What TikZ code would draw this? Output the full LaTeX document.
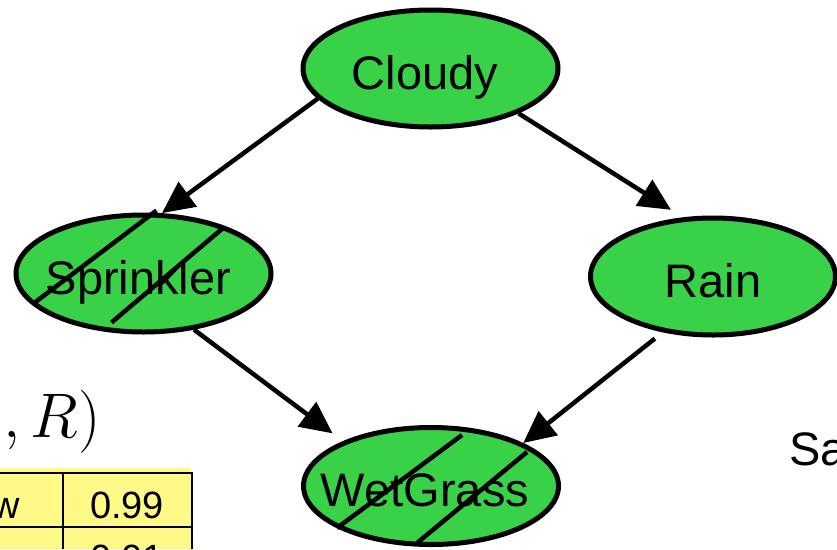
\documentclass[tikz,border=0pt]{standalone}
\usepackage{fix-cm}
\usepackage{amsmath}
\usepackage[no-math]{fontspec}
\setmainfont{Liberation Sans}
\usepackage{tikz}
\usetikzlibrary{shapes.geometric,arrows.meta}

\definecolor{nodegrn}{RGB}{57,209,72}
\definecolor{tblyel}{RGB}{255,250,135}

\begin{document}
\begin{tikzpicture}[x=1pt,y=-1pt]

\tikzstyle{var}=[ellipse,draw,line width=5pt,fill=nodegrn,minimum width=255pt,minimum height=117pt,inner ysep=0pt,inner xsep=-40pt,font=\fontsize{47}{56}\selectfont,text height=41pt,text depth=0pt]
\tikzstyle{arr}=[line width=4.5pt,-{Triangle[length=32pt,width=30pt]}]
\tikzstyle{hat}=[line width=4.5pt]
\tikzstyle{grd}=[line width=2.5pt]
\tikzstyle{tbl}=[inner sep=0pt,font=\fontsize{38}{45}\selectfont]

\useasboundingbox (0,0) rectangle (837,549);
\clip (0,0) rectangle (837,549);

\node[var] (cloudy) at (430.5,68.5) {Cloudy\hspace*{11pt}};
\node[var] (sprinkler) at (143.5,273.5) {Sprinkler\hspace*{10pt}};
\node[var,minimum width=245pt] (rain) at (713,276.5) {Rain};
\node[var] (wetgrass) at (431,486) {WetGrass\hspace*{12pt}};

\draw[arr] (cloudy.195.5) -- (sprinkler.73);
\draw[arr,shorten >=14pt] (cloudy.333) -- (rain.117);
\draw[arr,shorten >=13pt] (sprinkler.312) -- (wetgrass.153);
\draw[arr,shorten <=10pt] (rain.228) -- (wetgrass.25);

% observed
\draw[hat] ([shift={(-110,30)}]sprinkler.center) -- ([shift={(13,-63)}]sprinkler.center);
\draw[hat] ([shift={(-32,49)}]sprinkler.center) -- ([shift={(79,-45)}]sprinkler.center);
\draw[hat] ([shift={(-94,42)}]wetgrass.center) -- ([shift={(31,-51)}]wetgrass.center);
\draw[hat] ([shift={(-14,57)}]wetgrass.center) -- ([shift={(96,-34)}]wetgrass.center);

\node[anchor=base east,inner sep=0pt,font=\fontsize{63}{70}\selectfont] (joint) at (101,437) {$,R)$};
\node[anchor=base west,inner sep=0pt,font=\fontsize{47}{56}\selectfont] (side) at (789,465) {Sa};

\fill[tblyel] (0,468) rectangle (191,549);
\draw[grd] (0,473) -- (193,473);
\draw[grd] (0,527) -- (193,527);
\draw[grd] (63,473) -- (63,549);
\draw[grd] (192,473) -- (192,549);

\node[tbl,anchor=base east] (rowa) at (20.5,518) {w};
\node[tbl,anchor=base] (pa) at (127,518) {0.99};
\node[tbl,anchor=base] (pb) at (127,571) {0.01};

\end{tikzpicture}
\end{document}
